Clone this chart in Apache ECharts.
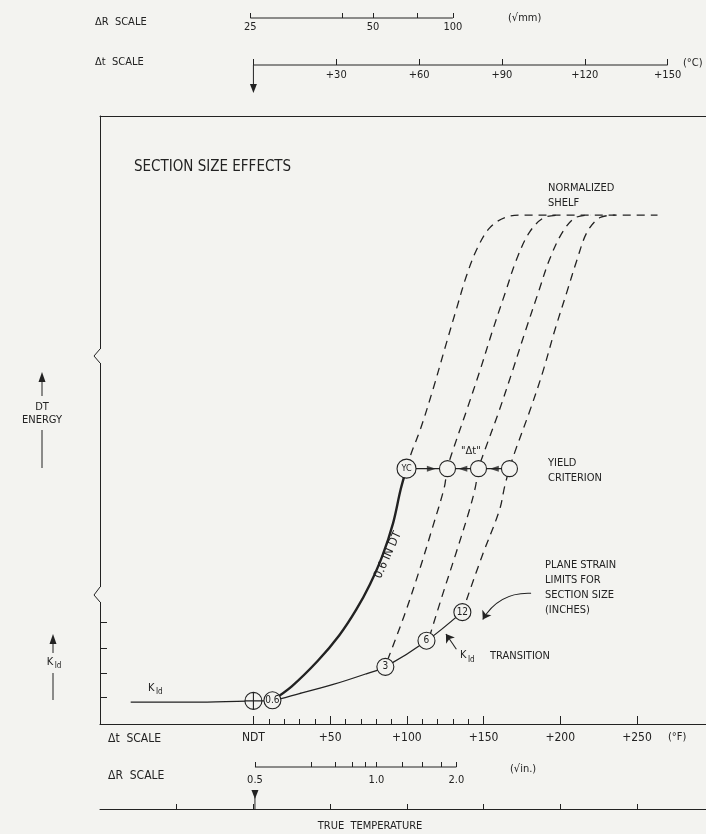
<!DOCTYPE html>
<html><head><meta charset="utf-8">
<script src="https://cdn.jsdelivr.net/npm/echarts@6/dist/echarts.min.js"></script>
<style>html,body{margin:0;padding:0;background:#f3f3f0}#c{width:706px;height:834px}</style>
</head><body><div id="c"></div>
<script>
// ---------------- data (temperatures in °F relative to NDT; energy in arbitrary 0-100 units) ----------------
const fTicksMajor = [0, 50, 100, 150, 200, 250];
const fTickLabels = ['NDT', '+50', '+100', '+150', '+200', '+250'];
const fTicksMinor = [10, 20, 30, 40, 60, 70, 80, 90, 110, 120, 130, 140];
const cTicks = [0, 30, 60, 90, 120, 150];
const cTickLabels = ['', '+30', '+60', '+90', '+120', '+150'];
const rMmPos = [-2, 58, 78, 107, 130];          // ΔR (√mm) ticks, placed on the °F scale
const rMmLabels = ['25', '', '50', '', '100'];
const rInPos = [1, 38, 53.5, 64.5, 73, 80.2, 97, 110, 122.6, 132.3];  // ΔR (√in.) ticks
const rInLabels = ['0.5', '', '', '', '', '1.0', '', '', '', '2.0'];
const trueTempTicks = [-50, 0, 50, 100, 150, 200, 250];
const kIdTicks = [4.4, 8.4, 12.5, 16.7];

const kidT = [-80, -35, 0, 12, 30, 52, 74, 86, 113, 136];
const kidE = [3.6, 3.6, 3.8, 3.9, 5.0, 6.5, 8.3, 9.4, 13.7, 18.4];
const dtT = [12.4, 25, 42, 56, 67, 76, 84, 91, 96, 99.8];
const dtE = [3.9, 6.2, 10.4, 14.6, 18.8, 23.0, 27.6, 33.0, 38.6, 42.0];
const c1T = [99.8, 103, 109, 117, 125.5, 132.5, 139, 146, 154, 164, 176, 263.4];
const c1E = [42.0, 44.6, 48.6, 55.0, 62.4, 68.4, 73.8, 78.3, 81.6, 83.3, 83.7, 83.7];
const c2T = [87.4, 98.4, 108.2, 116.6, 124.4, 126.4, 130, 139, 147.5, 156, 164.5, 171.5, 180, 189.6, 200];
const c2E = [10.5, 17.9, 25.3, 32.2, 38.9, 42.0, 45.0, 51.6, 58.0, 64.8, 71.2, 76.4, 80.9, 83.3, 83.7];
const c3T = [114.7, 123.2, 132.3, 140.8, 144.7, 146.7, 150.5, 160, 168.5, 177.5, 186, 193, 201.5, 210, 220];
const c3E = [14.3, 21.2, 28.3, 35.2, 39.0, 42.0, 44.8, 51.4, 57.8, 64.8, 71.2, 76.4, 80.9, 83.3, 83.7];
const c4T = [138.9, 149.3, 160.4, 163.7, 166.9, 170.5, 180, 188.5, 196.5, 204.5, 211, 217.5, 226, 236];
const c4E = [20.4, 27.8, 35.2, 39.0, 42.0, 44.8, 51.4, 57.8, 64.8, 71.2, 76.4, 80.9, 83.3, 83.7];

const kCircT = [0, 12.4, 86, 112.8, 136.2];
const kCircE = [3.8, 3.9, 9.4, 13.7, 18.4];
const kCircLabels = ['', '0.6', '3', '6', '12'];
const yCircT = [99.8, 126.5, 146.7, 166.9];
const yieldE = 42.0;
const yCircLabels = ['YC', '', '', ''];
const shiftArrowT = [116, 136.5, 157];
const shiftArrowDir = [-90, 90, 90];

// ---------------- helpers ----------------
const INK = '#222';
const BG = '#f3f3f0';
const FONT = "'DejaVu Sans Condensed','DejaVu Sans',sans-serif";
const zip = (a, b) => a.map((v, i) => [v, b[i]]);
const X0 = -100, X1 = 295, GL = 100, GW = 606;
const px = t => GL + (t - X0) * GW / (X1 - X0);

const chart = echarts.init(document.getElementById('c'), null, { renderer: 'canvas' });

function T(x, y, s, size, align, rot) {
  const o = { type: 'text', x, y, z: 50, style: { text: s, fill: INK, font: `${size || 11}px ${FONT}`, textVerticalAlign: 'middle', textAlign: align || 'left' } };
  if (rot) o.rotation = rot;
  return o;
}
const L = (pts, w) => ({ type: 'polyline', z: 50, shape: { points: pts }, style: { stroke: INK, lineWidth: w || 1, fill: null } });
const P = (pts) => ({ type: 'polygon', z: 50, shape: { points: pts }, style: { fill: INK } });
const R = (x, y, w, h) => ({ type: 'rect', z: 45, shape: { x, y, width: w, height: h }, style: { fill: BG } });

const hiddenY = gi => ({ gridIndex: gi, type: 'value', min: 0, max: 1, show: false });
const scaleAxis = (gi, min, max, ticks, labels, len, margin) => ({
  gridIndex: gi, type: 'value', min, max, position: 'bottom',
  axisLine: { show: false, onZero: false },
  axisTick: { show: true, inside: true, length: len, customValues: ticks, lineStyle: { color: INK, width: 1 } },
  axisLabel: labels ? {
    show: true, margin, color: INK, fontSize: 11, fontFamily: FONT,
    customValues: ticks.filter((v, i) => labels[i] !== ''),
    formatter: v => labels[ticks.indexOf(v)]
  } : { show: false },
  splitLine: { show: false }
});
const curve = (t, e, w, dashed) => ({
  type: 'line', data: zip(t, e), symbol: 'none', smooth: 0.35, z: 3,
  lineStyle: { color: INK, width: w, type: dashed ? [8, 6] : 'solid' }
});

const option = {
  backgroundColor: BG,
  animation: false,
  grid: [
    { left: GL, top: 116, width: GW, height: 608 },
    { left: GL, top: 40, width: GW, height: 25 },
    { left: GL, top: 0, width: GW, height: 18 },
    { left: GL, top: 740, width: GW, height: 27 },
    { left: GL, top: 780, width: GW, height: 29 }
  ],
  xAxis: [
    { gridIndex: 0, type: 'value', min: X0, max: X1, position: 'bottom',
      axisLine: { show: true, onZero: false, lineStyle: { color: INK, width: 1.2 } },
      axisTick: { show: true, inside: true, length: 8, customValues: fTicksMajor, lineStyle: { color: INK } },
      axisLabel: { show: true, margin: 8, color: INK, fontSize: 12, fontFamily: FONT, customValues: fTicksMajor,
        formatter: v => fTickLabels[fTicksMajor.indexOf(v)] },
      splitLine: { show: false } },
    { gridIndex: 0, type: 'value', min: X0, max: X1, position: 'bottom',
      axisLine: { show: false, onZero: false },
      axisTick: { show: true, inside: true, length: 5, customValues: fTicksMinor, lineStyle: { color: INK } },
      axisLabel: { show: false }, splitLine: { show: false } },
    { gridIndex: 0, type: 'value', min: X0, max: X1, position: 'top',
      axisLine: { show: true, onZero: false, lineStyle: { color: INK, width: 1 } },
      axisTick: { show: false }, axisLabel: { show: false }, splitLine: { show: false } },
    scaleAxis(1, X0 / 1.8, X1 / 1.8, cTicks, cTickLabels, 6, 5),
    scaleAxis(2, X0, X1, rMmPos, rMmLabels, 5, 4),
    scaleAxis(3, X0, X1, rInPos, rInLabels, 5, 8),
    { gridIndex: 4, type: 'value', min: X0, max: X1, position: 'bottom',
      axisLine: { show: true, onZero: false, lineStyle: { color: INK, width: 1 } },
      axisTick: { show: true, inside: true, length: 5, customValues: trueTempTicks, lineStyle: { color: INK } },
      axisLabel: { show: false }, splitLine: { show: false } }
  ],
  yAxis: [
    { gridIndex: 0, type: 'value', min: 0, max: 100, position: 'left',
      axisLine: { show: true, onZero: false, lineStyle: { color: INK, width: 1 } },
      axisTick: { show: true, inside: true, length: 7, customValues: kIdTicks, lineStyle: { color: INK } },
      axisLabel: { show: false }, splitLine: { show: false } },
    hiddenY(1), hiddenY(2), hiddenY(3), hiddenY(4)
  ],
  series: [
    // scale bars
    { type: 'line', xAxisIndex: 3, yAxisIndex: 1, data: [[cTicks[0], 0], [cTicks[cTicks.length - 1], 0]], symbol: 'none', clip: false, lineStyle: { color: INK, width: 1 } },
    { type: 'line', xAxisIndex: 4, yAxisIndex: 2, data: [[rMmPos[0], 0], [rMmPos[rMmPos.length - 1], 0]], symbol: 'none', clip: false, lineStyle: { color: INK, width: 1 } },
    { type: 'line', xAxisIndex: 5, yAxisIndex: 3, data: [[rInPos[0], 0], [rInPos[rInPos.length - 1], 0]], symbol: 'none', clip: false, lineStyle: { color: INK, width: 1 } },
    // curves
    curve(kidT, kidE, 1.3, false),
    curve(dtT, dtE, 2.4, false),
    curve(c1T, c1E, 1.3, true),
    curve(c2T, c2E, 1.3, true),
    curve(c3T, c3E, 1.3, true),
    curve(c4T, c4E, 1.3, true),
    // yield criterion connector
    { type: 'line', data: [[yCircT[0], yieldE], [yCircT[yCircT.length - 1], yieldE]], symbol: 'none', lineStyle: { color: INK, width: 1.3 }, z: 3 },
    { type: 'scatter', data: shiftArrowT.map((t, i) => ({ value: [t, yieldE], symbolRotate: shiftArrowDir[i] })), symbol: 'triangle', symbolSize: [6, 9], itemStyle: { color: INK }, z: 6 },
    // circles
    { type: 'scatter', z: 8,
      data: kCircT.map((t, i) => ({ value: [t, kCircE[i]], name: kCircLabels[i],
        symbol: i === 0 ? 'path://M10,0A10,10,0,1,1,-10,0A10,10,0,1,1,10,0ZM-10,0L10,0M0,-10L0,10' : 'circle' })),
      symbolSize: 17,
      itemStyle: { color: BG, borderColor: INK, borderWidth: 1.1, opacity: 1 },
      label: { show: true, position: 'inside', formatter: p => p.name, color: INK, fontSize: 10, fontFamily: FONT } },
    { type: 'scatter', z: 8,
      data: yCircT.map((t, i) => ({ value: [t, yieldE], name: yCircLabels[i], symbolSize: i === 0 ? 19 : 16 })),
      symbol: 'circle',
      itemStyle: { color: BG, borderColor: INK, borderWidth: 1.1, opacity: 1 },
      label: { show: true, position: 'inside', formatter: p => p.name, color: INK, fontSize: 9, fontFamily: FONT } },
    // annotation arrows
    { type: 'lines', coordinateSystem: 'cartesian2d', z: 9, clip: false,
      symbol: ['none', 'arrow'], symbolSize: 8,
      lineStyle: { color: INK, width: 1.1, opacity: 1 },
      data: [
        { coords: [[132.3, 12.3], [125.5, 14.8]] },
        { coords: [[181, 21.5], [149.5, 17.2]], lineStyle: { curveness: -0.3 } }
      ] }
  ]
};

chart.setOption(option);

// decorations and free text
const x0 = px(0);
const g = [
  T(95, 22, 'ΔR  SCALE', 11),
  T(95, 62, 'Δt  SCALE', 11),
  T(508, 18, '(√mm)', 11),
  T(683, 63, '(°C)', 11),
  L([[x0, 65], [x0, 86]], 1), P([[x0 - 3.5, 84], [x0 + 3.5, 84], [x0, 93]]),
  T(134, 167, 'SECTION SIZE EFFECTS', 15),
  T(548, 188, 'NORMALIZED', 11),
  T(548, 203, 'SHELF', 11),
  T(461, 451, '"Δt"', 11),
  T(548, 463, 'YIELD', 11),
  T(548, 478, 'CRITERION', 11),
  T(545, 565, 'PLANE STRAIN', 11),
  T(545, 580, 'LIMITS FOR', 11),
  T(545, 595, 'SECTION SIZE', 11),
  T(545, 610, '(INCHES)', 11),
  T(460, 655, 'K', 11), T(468, 660, 'Id', 8),
  T(490, 656, 'TRANSITION', 11),
  T(388, 555, '0.6 IN DT', 12, 'center', 1.15),
  T(148, 688, 'K', 11), T(156, 692, 'Id', 8),
  // left axis labels
  P([[42, 372], [38.5, 382], [45.5, 382]]), L([[42, 380], [42, 396]], 1),
  T(42, 407, 'DT', 11, 'center'), T(42, 420, 'ENERGY', 11, 'center'),
  L([[42, 430], [42, 468]], 1),
  P([[53, 634], [49.5, 644], [56.5, 644]]), L([[53, 642], [53, 653]], 1),
  T(50, 662, 'K', 11, 'center'), T(58, 666, 'Id', 8, 'center'),
  L([[53, 673], [53, 700]], 1),
  // axis break zigzags
  R(94, 349, 10, 14), L([[100, 349], [94, 356], [100, 363]], 1),
  R(94, 587, 10, 15), L([[100, 587], [94, 595], [100, 602]], 1),
  // bottom captions
  T(108, 739, 'Δt  SCALE', 12),
  T(668, 737, '(°F)', 11),
  T(108, 776, 'ΔR  SCALE', 12),
  T(510, 769, '(√in.)', 11),
  P([[px(1) - 3.5, 790], [px(1) + 3.5, 790], [px(1), 799]]), L([[px(1), 797], [px(1), 809]], 1),
  T(370, 826, 'TRUE  TEMPERATURE', 11, 'center')
];
chart.setOption({ graphic: g });
</script></body></html>
